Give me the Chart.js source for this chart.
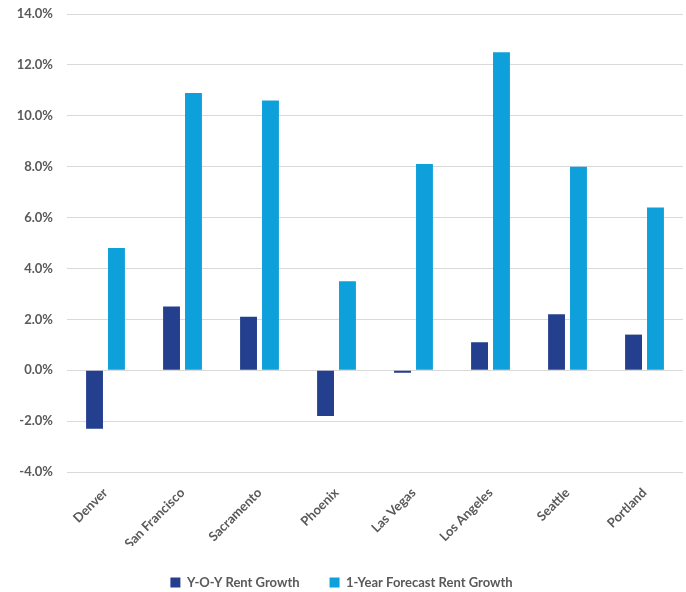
<!DOCTYPE html>
<html lang="en">
<head>
    <meta charset="UTF-8">
    <title>Rent Growth</title>
    <script src="https://cdn.jsdelivr.net/npm/chart.js@4.4.1/dist/chart.umd.min.js"></script>
    <style>
        html, body { margin: 0; padding: 0; background: #fff; }
        #wrap { width: 686px; height: 592px; }
    </style>
</head>
<body>
    <div id="wrap"><canvas id="chart" width="686" height="592"></canvas></div>
    <script>
        const cities = ['Denver', 'San Francisco', 'Sacramento', 'Phoenix', 'Las Vegas', 'Los Angeles', 'Seattle', 'Portland'];
        const yoyGrowth = [-2.3, 2.5, 2.1, -1.8, -0.1, 1.1, 2.2, 1.4];
        const forecastGrowth = [4.8, 10.9, 10.6, 3.5, 8.1, 12.5, 8.0, 6.4];
        const yTicks = [-4, -2, 0, 2, 4, 6, 8, 10, 12, 14];

        const textColor = '#595959';
        const font = { family: 'Lato, sans-serif', size: 13, weight: 'bold' };

        // pull the legend a little lower than Chart.js puts it
        const legendShift = {
            id: 'legendShift',
            beforeInit(chart) {
                const fit = chart.legend.fit;
                chart.legend.fit = function () {
                    fit.call(this);
                    this.height -= 7;
                };
            }
        };

        new Chart(document.getElementById('chart').getContext('2d'), {
            type: 'bar',
            data: {
                labels: cities,
                datasets: [{
                    label: 'Y-O-Y Rent Growth',
                    data: yoyGrowth,
                    backgroundColor: '#253f8f',
                    categoryPercentage: 0.57,
                    barPercentage: 0.77
                }, {
                    label: '1-Year Forecast Rent Growth',
                    data: forecastGrowth,
                    backgroundColor: '#0ea0db',
                    categoryPercentage: 0.57,
                    barPercentage: 0.77
                }]
            },
            plugins: [legendShift],
            options: {
                responsive: false,
                animation: false,
                layout: { padding: { top: 14, right: 3, left: 0, bottom: 0 } },
                plugins: {
                    legend: {
                        position: 'bottom',
                        labels: {
                            color: textColor,
                            font: font,
                            boxWidth: 10,
                            boxHeight: 10,
                            padding: 30
                        }
                    },
                    tooltip: { enabled: false }
                },
                scales: {
                    x: {
                        afterFit: axis => {
                            axis.height = 74;
                            axis.paddingTop = 0;
                        },
                        grid: { display: false },
                        border: { display: false },
                        ticks: {
                            color: textColor,
                            font: font,
                            maxRotation: 45,
                            minRotation: 45,
                            padding: 5
                        }
                    },
                    y: {
                        min: -4,
                        max: 14,
                        afterBuildTicks: axis => {
                            axis.ticks = yTicks.map(v => ({ value: v }));
                        },
                        afterFit: axis => {
                            axis.width = 67;
                            axis.paddingTop = 0;
                        },
                        grid: { color: '#d9d9d9', drawTicks: false },
                        border: { display: false },
                        ticks: {
                            color: textColor,
                            font: font,
                            padding: 14,
                            callback: v => v.toFixed(1) + '%'
                        }
                    }
                }
            }
        });
    </script>
</body>
</html>
